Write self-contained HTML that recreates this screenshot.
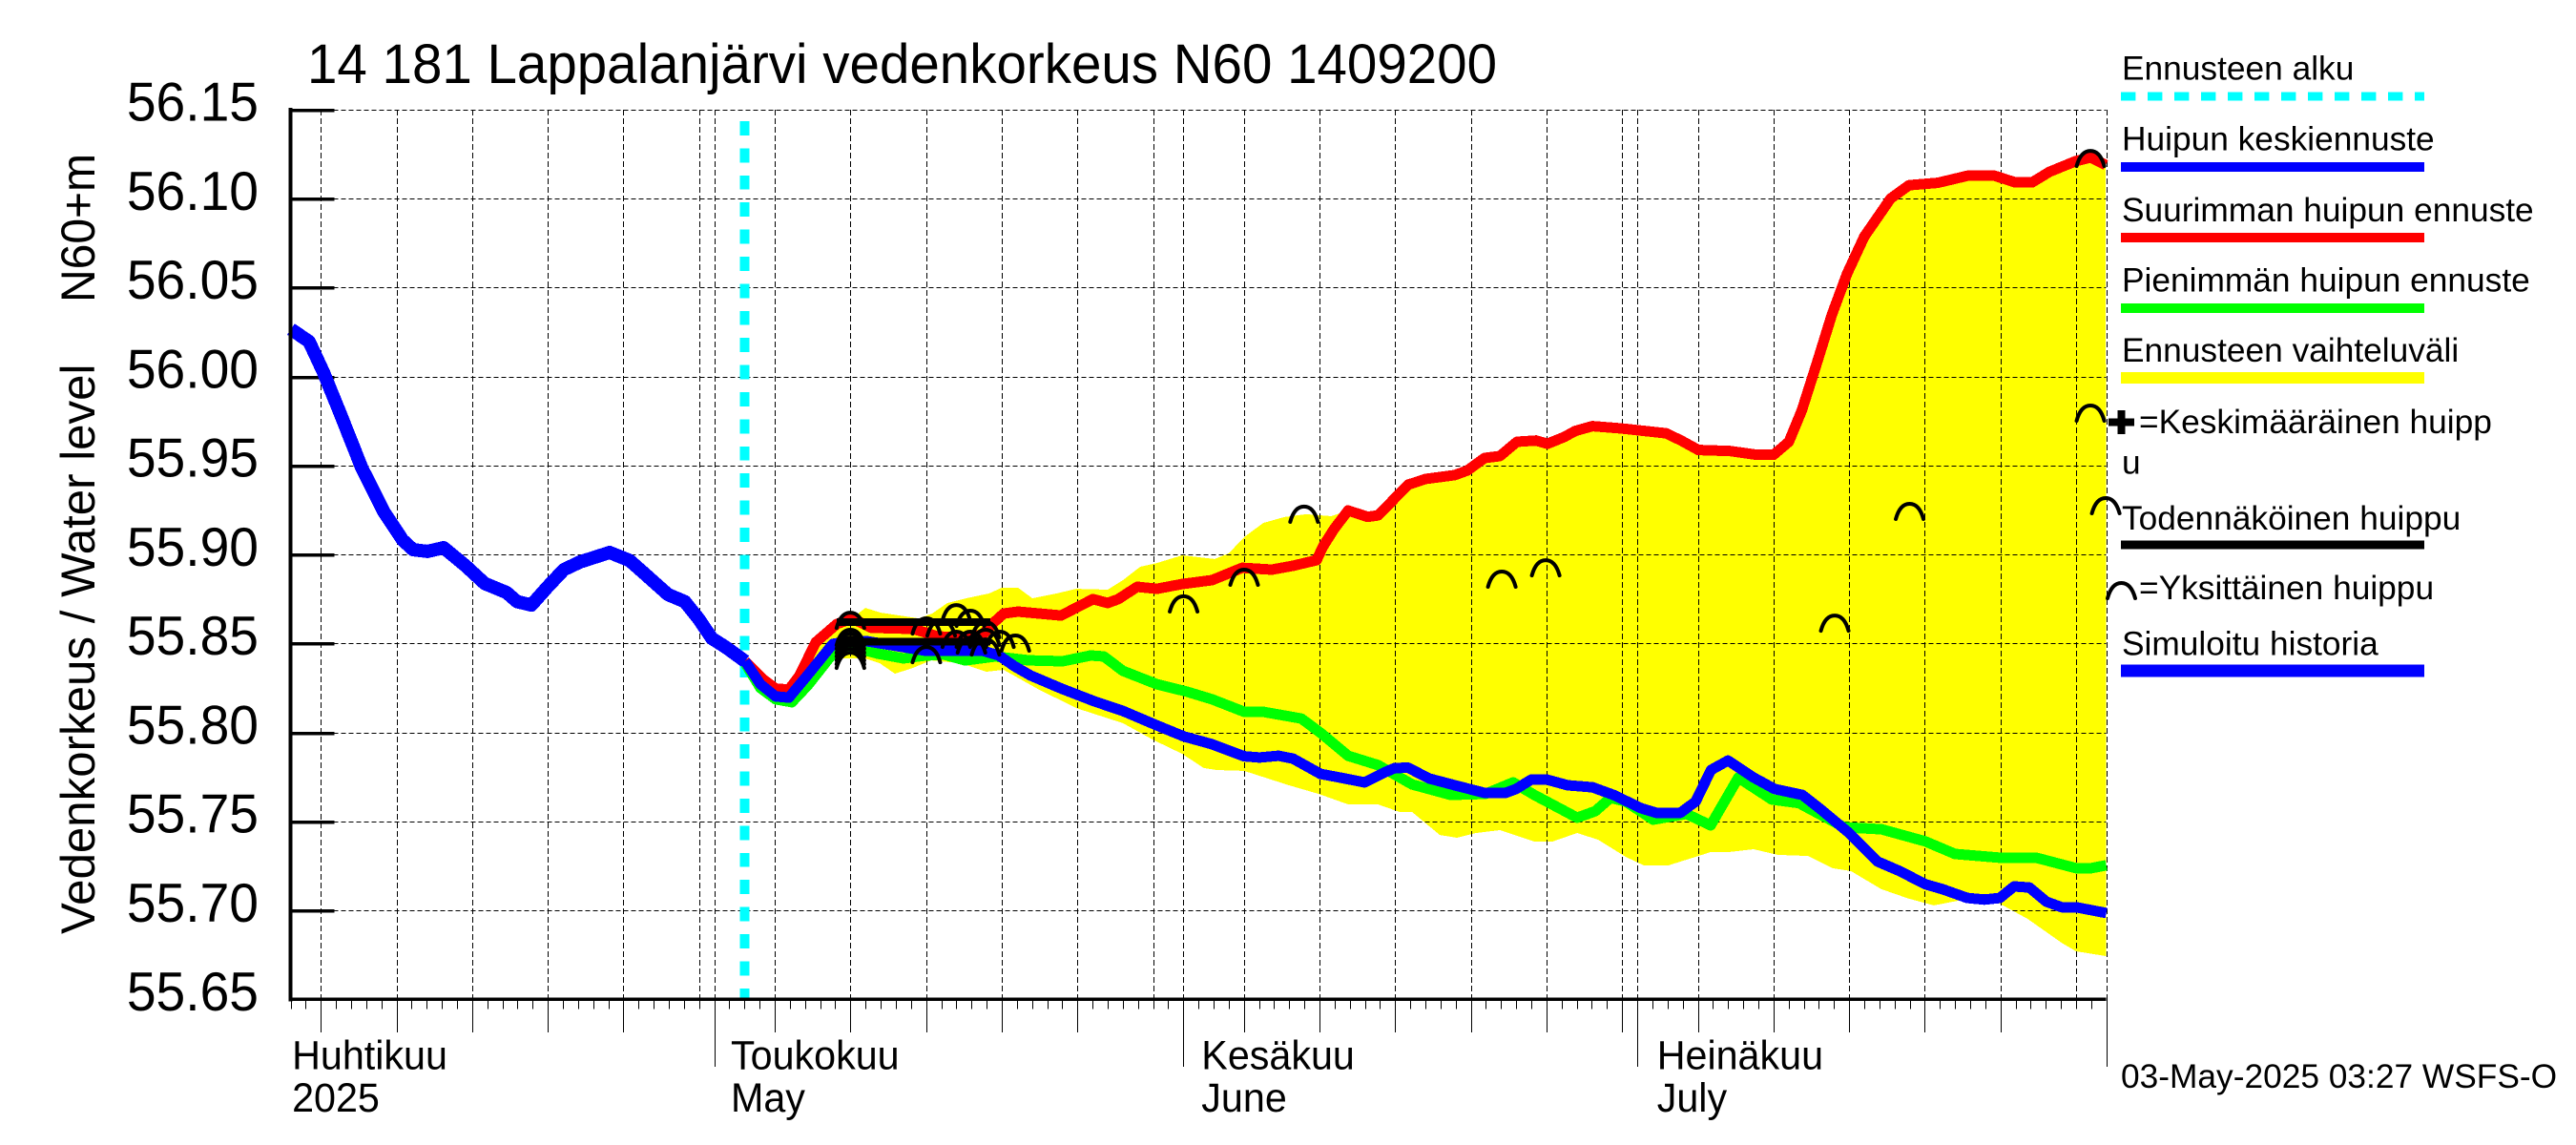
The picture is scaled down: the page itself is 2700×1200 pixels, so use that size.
<!DOCTYPE html>
<html lang="fi">
<head>
<meta charset="utf-8">
<title>14 181 Lappalanjärvi vedenkorkeus N60 1409200</title>
<style>
html,body{margin:0;padding:0;background:#fff;}
svg{display:block;font-family:"Liberation Sans",Arial,sans-serif;}
</style>
</head>
<body>
<svg id="chart" xmlns="http://www.w3.org/2000/svg" width="2700" height="1200" viewBox="0 0 2700 1200">
<rect x="0" y="0" width="2700" height="1200" fill="#fff"/>
<g id="plot"></g>
<text transform="translate(322,87) scale(.966,1)" font-size="58.5">14 181 Lappalanjärvi vedenkorkeus N60 1409200</text>
<text transform="translate(99,979) rotate(-90) scale(.985,1)" font-size="50">Vedenkorkeus / Water level</text>
<text transform="translate(99,317) rotate(-90) scale(.96,1)" font-size="50">N60+m</text>
<text x="2223" y="1140" font-size="35.3">03-May-2025 03:27 WSFS-O</text>

<g font-size="35.3">
  <text x="2224" y="83.5">Ennusteen alku</text>
  <line x1="2223" y1="101" x2="2541" y2="101" stroke="#00ffff" stroke-width="9" stroke-dasharray="15.4 12.6"/>
  <text x="2224" y="157.5">Huipun keskiennuste</text>
  <rect x="2223" y="170" width="318" height="10" fill="#0000ff"/>
  <text x="2224" y="232">Suurimman huipun ennuste</text>
  <rect x="2223" y="244" width="318" height="10" fill="#ff0000"/>
  <text x="2224" y="305.5">Pienimmän huipun ennuste</text>
  <rect x="2223" y="318" width="318" height="10" fill="#00ff00"/>
  <text x="2224" y="379">Ennusteen vaihteluväli</text>
  <rect x="2223" y="390" width="318" height="12" fill="#ffff00"/>
  <g>
    <rect x="2210" y="438.5" width="27" height="8" fill="#000"/>
    <rect x="2219.5" y="430" width="8" height="25" fill="#000"/>
  </g>
  <text x="2242" y="454">=Keskimääräinen huipp</text>
  <text x="2224" y="496.5">u</text>
  <text x="2224" y="555">Todennäköinen huippu</text>
  <rect x="2223" y="566.5" width="318" height="9" fill="#000"/>
  <path d="M2209 627C2212 616 2217 611 2223.5 611C2230 611 2235 616 2238 627" fill="none" stroke="#000" stroke-width="4" stroke-linecap="round"/>
  <text x="2242" y="628">=Yksittäinen huippu</text>
  <text x="2224" y="686.5">Simuloitu historia</text>
  <rect x="2223" y="696.5" width="318" height="13" fill="#0000ff"/>
</g>
</svg>

<script>
// Time is in days since 1 April 2025; levels are metres N60+.
const yTickLabels = ['56.15','56.10','56.05','56.00','55.95','55.90','55.85','55.80','55.75','55.70','55.65'];
const gridDays = [4,9,14,19,24,29,30,34,39,44,49,54,59,61,65,70,75,80,85,90,91,95,100,105,110,115,120,122];
const shortTickGridDays = [29,59,120];
const monthDays = [30,61,91,122];
const monthLabelDays = [2.1,31.1,62.2,92.3];
const monthLabelsFi = ['Huhtikuu','Toukokuu','Kesäkuu','Heinäkuu'];
const monthLabelsEn = ['2025','May','June','July'];
const firstDay = 2;
const lastDay = 122;
const forecastStartDay = 32;

const historyDays = [2.03,3.23,4.17,5.25,6.7,8.15,9.41,10.1,11.05,12.12,13.57,14.83,16.28,16.97,17.92,18.99,20.06,21.14,23.09,24.41,25.3,26.94,28.05,28.95,29.84,30.78,32.04];
const historyLevels = [56.0266,56.0196,56.0025,55.9799,55.9488,55.9242,55.9081,55.9027,55.9017,55.9038,55.8936,55.8837,55.8786,55.8735,55.8716,55.8818,55.8915,55.8958,55.9011,55.8966,55.8899,55.8775,55.8735,55.8641,55.8529,55.8478,55.84];

const meanDays = [32.04,33.05,34.06,34.94,36.2,37.84,38.92,40.05,43.96,47.74,48.82,49.82,50.9,52.98,55.12,57.01,59.22,61.05,62.88,65.02,66.03,67.29,68.24,70.07,71.39,72.97,74.23,74.98,75.86,77.25,78.95,80.91,82.3,82.99,84,85.01,86.4,88.04,89.43,91.26,92.27,93.85,94.86,95.87,97,98.7,100.08,101.91,103.11,104.93,106.89,108.34,110.04,111.17,112.81,113.95,114.96,115.9,116.91,118.04,119.05,120,122];
const meanLevels = [55.84,55.8271,55.8202,55.8196,55.8325,55.8497,55.8513,55.8513,55.8459,55.8459,55.8432,55.8373,55.832,55.8245,55.8175,55.8121,55.8041,55.7977,55.7934,55.7866,55.7859,55.7869,55.7853,55.7767,55.7746,55.7719,55.7773,55.78,55.7802,55.7741,55.7703,55.766,55.766,55.7682,55.7735,55.7735,55.7703,55.7692,55.7649,55.7574,55.7548,55.7548,55.7612,55.7789,55.7842,55.7746,55.7682,55.7649,55.7569,55.744,55.7274,55.7221,55.7147,55.7119,55.707,55.7061,55.707,55.7135,55.7129,55.7049,55.7018,55.7018,55.6985];

const maxDays = [32.04,33.24,34.06,34.94,35.64,36.71,38.1,39.11,40.37,43.14,43.77,44.78,46.8,47.74,48.44,49.13,50.08,52.92,55.03,56,56.7,57.96,59.25,60.92,62.9,64.89,66.85,68.24,69.81,70.22,70.94,71.89,73.18,73.88,75.86,77,78.95,79.77,80.91,81.92,83.05,84.31,85.07,86.17,86.9,88.04,89.93,92.9,93.9,95.04,97.14,98.88,100.01,101.02,101.88,102.88,103.86,104.87,106,107.74,108.96,110.86,112.88,114.58,115.97,117.1,118.24,119.94,120.95,121.96];
const maxLevels = [55.84,55.8298,55.8246,55.8241,55.832,55.8507,55.8609,55.8641,55.8588,55.8582,55.8566,55.8539,55.8534,55.855,55.8615,55.8668,55.8679,55.8657,55.8749,55.8727,55.8749,55.8818,55.8807,55.8834,55.8856,55.8925,55.8915,55.8936,55.8968,55.9043,55.914,55.9247,55.9211,55.922,55.9392,55.9424,55.9446,55.9472,55.9542,55.9553,55.9633,55.964,55.9622,55.966,55.9694,55.9721,55.9708,55.9681,55.964,55.9587,55.9581,55.956,55.956,55.9633,55.981,56.0078,56.0346,56.0578,56.0786,56.1,56.1075,56.1088,56.1129,56.1129,56.1091,56.1091,56.115,56.1209,56.1231,56.1188];

const minDays = [32.04,33.05,34.06,35.13,36.2,37.84,38.92,40.05,40.8,42.5,43.96,45.2,46.58,48.56,50.8,53.03,54.87,55.75,57.01,59.25,61.24,62.9,65.02,66.28,68.8,70.07,71.89,73.88,76.12,78.67,80.97,82.8,84.19,87.03,88.23,89.24,90.24,92.04,94.25,95.85,97.68,99.89,101.69,104.68,107.14,110.04,112,114.96,117.36,120,121,122];
const minLevels = [55.8389,55.825,55.8186,55.817,55.8266,55.8443,55.847,55.8459,55.8443,55.8416,55.8432,55.8437,55.8405,55.8427,55.8405,55.84,55.8432,55.8427,55.8346,55.8271,55.8229,55.8186,55.8116,55.8116,55.8078,55.7998,55.7869,55.7816,55.7708,55.7649,55.7655,55.7719,55.7649,55.7521,55.7558,55.7633,55.7612,55.751,55.7542,55.7478,55.7746,55.7623,55.7603,55.7467,55.7456,55.7388,55.7317,55.7296,55.7296,55.7237,55.7237,55.7254];

const bandUpperDays = [32.04,33.05,34.06,34.94,35.64,36.71,38.1,39.11,39.99,41,42.26,43.52,44.4,45.41,46.67,48.18,49,50.08,51.02,52.64,53.92,56,57.01,58.15,59.25,60.92,63.07,64,65.02,66.28,67.67,69.12,70.79,71.89,73.18,73.88,75.86,77,78.95,79.77,80.91,81.92,83.05,84.31,85.07,86.17,86.9,88.04,89.93,92.9,93.9,95.04,97.14,98.88,100.01,101.02,101.88,102.88,103.86,104.87,106,107.74,108.96,110.86,112.88,114.58,115.97,117.1,118.24,119.94,120.95,121.96];
const bandUpperLevels = [55.843,55.8298,55.8246,55.8241,55.832,55.8507,55.8609,55.8641,55.87,55.8673,55.8657,55.8641,55.8668,55.8727,55.8754,55.8781,55.8813,55.8813,55.8754,55.8781,55.8807,55.8802,55.8856,55.8931,55.8952,55.8995,55.8974,55.9006,55.9097,55.9177,55.921,55.9226,55.9215,55.9247,55.9211,55.922,55.9392,55.9424,55.9446,55.9472,55.9542,55.9553,55.9633,55.964,55.9622,55.966,55.9694,55.9721,55.9708,55.9681,55.964,55.9587,55.9581,55.956,55.956,55.9633,55.981,56.0078,56.0346,56.0578,56.0786,56.1,56.1075,56.1088,56.1129,56.1129,56.1091,56.1091,56.115,56.1209,56.1231,56.1188];

const bandLowerDays = [32.04,33.05,34.06,35.13,36.2,37.84,38.28,39.99,40.94,41.95,43.14,44.34,46.29,47.99,49.13,51.37,53.92,57.01,58.97,60.92,62.35,63.19,65.02,67.98,69.94,71.89,73.85,75.3,76.12,77.95,79.09,80.35,81.92,84.19,85.39,87.03,88.42,90.24,91.44,93.05,95.85,97.05,98.69,100.27,102.29,103.9,105.12,107.14,108.9,110.6,112.55,114.96,116.79,119.05,120,122];
const bandLowerLevels = [55.8346,55.8218,55.8175,55.8159,55.8245,55.8405,55.8416,55.8416,55.8389,55.833,55.8363,55.8405,55.8389,55.8341,55.8352,55.8245,55.8137,55.8052,55.796,55.788,55.78,55.7789,55.7784,55.7703,55.7655,55.7596,55.7596,55.7553,55.7553,55.7424,55.7408,55.7435,55.7451,55.7387,55.7387,55.7435,55.7397,55.7301,55.7253,55.7253,55.7328,55.7328,55.7344,55.7312,55.7306,55.7237,55.7221,55.7119,55.7067,55.7028,55.706,55.7038,55.6953,55.6818,55.677,55.6743];

const summaryPeakStartDay = 38.1;
const summaryPeakEndDay = 48.25;
const averagePeakLevel = 55.8509;
const likelyPeakLevel = 55.8621;

const peakDays = [120.95,120.95,121.96,109,104.05,84.95,82.05,68.98,65.02,61.02,39,39,39,39,39,39,39,39,44.02,44.02,46,46.93,45,46,46.93,47.93,47.93,47,48.88,49.9,47.93];
const peakLevels = [56.1268,55.9837,55.9317,55.9285,55.8657,55.8968,55.8904,55.9269,55.8915,55.8765,55.8673,55.8577,55.8556,55.8534,55.8513,55.8491,55.847,55.8448,55.8641,55.848,55.8716,55.8684,55.863,55.8566,55.8566,55.862,55.8577,55.8534,55.8566,55.8545,55.8523];

const SVG_NS = 'http://www.w3.org/2000/svg';
const plot = document.getElementById('plot');
const plotLeft = 304.5;
const plotRight = 2207.5;
const plotTop = 114.8;
const plotBottom = 1047.4;

function xScale(day) { return 272.8 + 15.86 * day; }
function yScale(level) { return 1047.4 - (level - 55.65) * 1865.2; }
function make(tag, attrs) {
  const el = document.createElementNS(SVG_NS, tag);
  for (const key in attrs) el.setAttribute(key, attrs[key]);
  plot.appendChild(el);
  return el;
}
function pointList(days, levels) {
  return days.map(function (d, i) { return xScale(d).toFixed(1) + ',' + yScale(levels[i]).toFixed(1); });
}
function seriesLine(days, levels, color, width) {
  return make('polyline', {
    points: pointList(days, levels).join(' '),
    fill: 'none', stroke: color, 'stroke-width': width,
    'stroke-linejoin': 'round', 'stroke-linecap': 'butt', 'shape-rendering': 'crispEdges'
  });
}

// forecast range band
const bandPoints = pointList(bandUpperDays, bandUpperLevels).concat(pointList(bandLowerDays, bandLowerLevels).reverse());
const band = make('polygon', { points: bandPoints.join(' '), fill: '#ffff00', 'shape-rendering': 'crispEdges' });



// gridlines
gridDays.forEach(function (day) {
  const x = Math.round(xScale(day)) + 0.5;
  const grid = make('line', { x1: x, y1: plotTop, x2: x, y2: plotBottom, stroke: '#000', 'stroke-width': 1.3, 'stroke-dasharray': '6 3', 'shape-rendering': 'crispEdges' });
  
  
});
yTickLabels.forEach(function (label) {
  const y = Math.round(yScale(parseFloat(label))) + 0.5;
  if (parseFloat(label) > 55.65) {
    const grid = make('line', { x1: plotLeft + 45, y1: y, x2: plotRight, y2: y, stroke: '#000', 'stroke-width': 1.3, 'stroke-dasharray': '5 3', 'shape-rendering': 'crispEdges' });
    
    
    const tick = make('line', { x1: plotLeft, y1: y, x2: plotLeft + 46, y2: y, stroke: '#000', 'stroke-width': 3.5, 'shape-rendering': 'crispEdges' });
    
    
  }
  const text = make('text', { transform: 'translate(271,' + (yScale(parseFloat(label)) + 11.7).toFixed(1) + ') scale(.96,1)', 'font-size': 57.5, 'text-anchor': 'end' });
  text.textContent = label;
  
  
});

// forecast start marker
const startLine = make('line', { x1: xScale(forecastStartDay), y1: 127, x2: xScale(forecastStartDay), y2: plotBottom, stroke: '#00ffff', 'stroke-width': 10, 'stroke-dasharray': '14.9 13.5', 'shape-rendering': 'crispEdges' });



// series
const minLine = seriesLine(minDays, minLevels, '#00ff00', 11);


const maxLine = seriesLine(maxDays, maxLevels, '#ff0000', 11);


const meanLine = seriesLine(meanDays, meanLevels, '#0000ff', 11);


const historyLine = seriesLine(historyDays, historyLevels, '#0000ff', 14);



// summary peak lines
const likelyLine = seriesLine([summaryPeakStartDay, summaryPeakEndDay], [likelyPeakLevel, likelyPeakLevel], '#000', 8);


const averageLine = seriesLine([summaryPeakStartDay, summaryPeakEndDay], [averagePeakLevel, averagePeakLevel], '#000', 8);



// individual peak markers
peakDays.forEach(function (day, i) {
  const cx = xScale(day);
  const y = yScale(peakLevels[i]);
  const d = 'M' + (cx - 14.5) + ' ' + (y + 16) + 'C' + (cx - 11.5) + ' ' + (y + 5) + ' ' + (cx - 6.5) + ' ' + y + ' ' + cx + ' ' + y + 'C' + (cx + 6.5) + ' ' + y + ' ' + (cx + 11.5) + ' ' + (y + 5) + ' ' + (cx + 14.5) + ' ' + (y + 16);
  const peak = make('path', { d: d, fill: 'none', stroke: '#000', 'stroke-width': 4, 'stroke-linecap': 'round' });
  
  
});

// axes
const yAxis = make('line', { x1: plotLeft, y1: plotTop - 2, x2: plotLeft, y2: plotBottom + 2, stroke: '#000', 'stroke-width': 4, 'shape-rendering': 'crispEdges' });


const xAxis = make('line', { x1: plotLeft - 2, y1: plotBottom, x2: plotRight, y2: plotBottom, stroke: '#000', 'stroke-width': 3.5, 'shape-rendering': 'crispEdges' });



// x ticks
for (let day = firstDay; day <= lastDay; day++) {
  let bottom = plotBottom + 10;
  if (gridDays.indexOf(day) >= 0 && shortTickGridDays.indexOf(day) < 0) bottom = plotBottom + 34.5;
  if (monthDays.indexOf(day) >= 0) bottom = plotBottom + 70.5;
  const x = Math.round(xScale(day)) + 0.5;
  const tick = make('line', { x1: x, y1: plotBottom, x2: x, y2: bottom, stroke: '#000', 'stroke-width': 1.3, 'shape-rendering': 'crispEdges' });
  
  
}
monthLabelDays.forEach(function (day, i) {
  const fi = make('text', { transform: 'translate(' + xScale(day).toFixed(1) + ',1120.5) scale(.96,1)', 'font-size': 43 });
  fi.textContent = monthLabelsFi[i];
  
  
  const en = make('text', { transform: 'translate(' + xScale(day).toFixed(1) + ',1165) scale(.96,1)', 'font-size': 43 });
  en.textContent = monthLabelsEn[i];
  
  
});
</script>
</body>
</html>
